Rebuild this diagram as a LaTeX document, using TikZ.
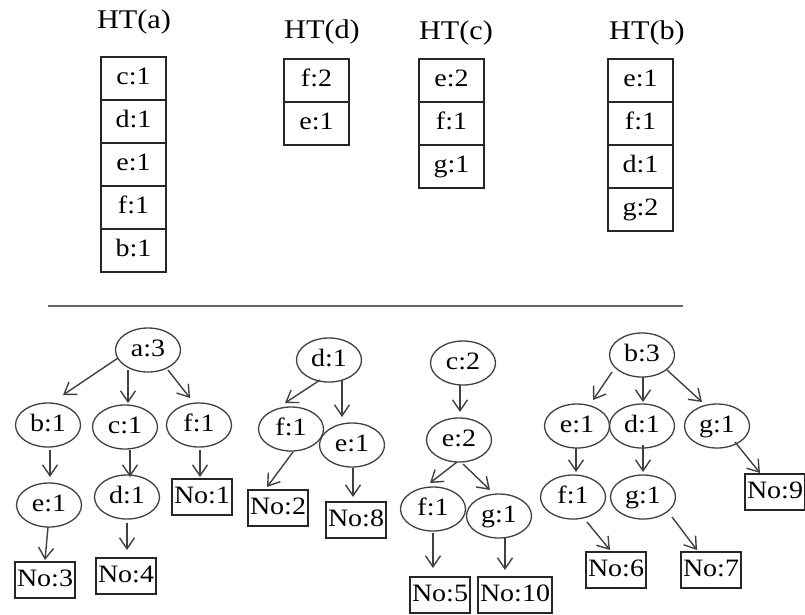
\documentclass[tikz,border=0pt]{standalone}
\usepackage{fontspec}
\setmainfont[FakeStretch=1.12]{Liberation Serif}
\usetikzlibrary{shapes.geometric,arrows.meta,calc}

\begin{document}
\begin{tikzpicture}[x=1pt,y=-1pt,
  txt/.style={font=\fontsize{25}{29}\selectfont,text height=17pt,text depth=5pt},
  title/.style={font=\fontsize{27}{31}\selectfont,inner sep=0pt},
  cell/.style={txt,rectangle,draw=black!85,line width=1.6pt,minimum width=65pt,
               minimum height=43pt,inner sep=0pt},
  item/.style={txt,ellipse,draw=black!75,line width=1.3pt,minimum width=65pt,
               minimum height=44pt,inner sep=0pt},
  leaf/.style={txt,rectangle,draw=black!85,line width=1.4pt,minimum height=36pt,
               inner xsep=2pt,inner ysep=0pt},
  arr/.style={-{Straight Barb[length=11pt,width=15pt]},line width=1.4pt,draw=black!75},
  rule/.style={line width=2pt,draw=black!60}]

\useasboundingbox (0,0) rectangle (805,614);

% ---------- header tables ----------
\node[title] (tA) at (134,22) {HT(a)};
\node[cell] (a1) at (133.5,78.5)  {c:1};
\node[cell] (a2) at (133.5,121.5) {d:1};
\node[cell] (a3) at (133.5,164.5) {e:1};
\node[cell] (a4) at (133.5,207.5) {f:1};
\node[cell] (a5) at (133.5,250.5) {b:1};

\node[title] (tD) at (322,32) {HT(d)};
\node[cell] (d1) at (316.5,80.5)  {f:2};
\node[cell] (d2) at (316.5,123.5) {e:1};

\node[title] (tC) at (456,33) {HT(c)};
\node[cell] (c1) at (451.5,80.5)  {e:2};
\node[cell] (c2) at (451.5,123.5) {f:1};
\node[cell] (c3) at (451.5,166.5) {g:1};

\node[title] (tB) at (647,33) {HT(b)};
\node[cell] (b1) at (640.5,80.5)  {e:1};
\node[cell] (b2) at (640.5,123.5) {f:1};
\node[cell] (b3) at (640.5,166.5) {d:1};
\node[cell] (b4) at (640.5,209.5) {g:2};

% ---------- separator ----------
\coordinate (sepL) at (48,306);
\coordinate (sepR) at (683,306);
\draw[rule] (sepL) -- (sepR);

% ---------- tree rooted at a ----------
\node[item] (A3) at (148,350) {a:3};
\node[item] (B1) at (48,425)  {b:1};
\node[item] (C1) at (125,427) {c:1};
\node[item] (F1) at (199,425) {f:1};
\node[item] (E1) at (49,505)  {e:1};
\node[item] (D1) at (127,497) {d:1};
\node[leaf] (N1) at (202,497) {No:1};
\node[leaf] (N3) at (45,580)  {No:3};
\node[leaf] (N4) at (126,576) {No:4};

\draw[arr] ($(A3)+(-30,8)$) -- ($(B1)+(15,-30)$);
\draw[arr] ($(A3)+(-20,20)$) -- ($(C1)+(3,-24)$);
\draw[arr] ($(A3)+(20,20)$) -- ($(F1)+(-9,-27)$);
\draw[arr] ($(B1)+(2,25)$) -- ($(E1)+(1,-28)$);
\draw[arr] ($(C1)+(5,23)$) -- ($(D1)+(3,-20)$);
\draw[arr] ($(F1)+(1,25)$) -- ($(N1)+(-2,-20)$);
\draw[arr] ($(E1)+(-1,22)$) -- ($(N3)+(0,-20)$);
\draw[arr] ($(D1)+(0,26)$) -- ($(N4)+(1,-26)$);

% ---------- tree rooted at d ----------
\node[item] (Dd)  at (329,360) {d:1};
\node[item] (Fd)  at (291,429) {f:1};
\node[item] (Ed)  at (352,445) {e:1};
\node[leaf] (N2)  at (278,508) {No:2};
\node[leaf] (N8)  at (356,520) {No:8};

\draw[arr] ($(Dd)+(-9,20)$) -- ($(Fd)+(-6,-26)$);
\draw[arr] ($(Dd)+(13,20)$) -- ($(Ed)+(-10,-28)$);
\draw[arr] ($(Fd)+(2,23)$) -- ($(N2)+(-11,-21)$);
\draw[arr] ($(Ed)+(1,23)$) -- ($(N8)+(-3,-23)$);

% ---------- tree rooted at c ----------
\node[item] (Cc)  at (463,363) {c:2};
\node[item] (Ec)  at (459,440) {e:2};
\node[item] (Fc)  at (433,509) {f:1};
\node[item] (Gc)  at (499,516) {g:1};
\node[leaf] (N5)  at (440,595) {No:5};
\node[leaf] (N10) at (515,595) {No:10};

\draw[arr] ($(Cc)+(-3,22)$) -- ($(Ec)+(1,-28)$);
\draw[arr] ($(Ec)+(-2,22)$) -- ($(Fc)+(-3,-26)$);
\draw[arr] ($(Ec)+(4,24)$) -- ($(Gc)+(-9,-26)$);
\draw[arr] ($(Fc)+(0,24)$) -- ($(N5)+(-7,-27)$);
\draw[arr] ($(Gc)+(6,21)$) -- ($(N10)+(-10,-25)$);

% ---------- tree rooted at b ----------
\node[item] (Bb)  at (642,355) {b:3};
\node[item] (Eb)  at (577,426) {e:1};
\node[item] (Db)  at (642,426) {d:1};
\node[item] (Gb)  at (717,426) {g:1};
\node[item] (Fb)  at (573,497) {f:1};
\node[item] (Gb2) at (643,497) {g:1};
\node[leaf] (N9)  at (775,492) {No:9};
\node[leaf] (N6)  at (616,570) {No:6};
\node[leaf] (N7)  at (711,570) {No:7};

\draw[arr] ($(Bb)+(-30,17)$) -- ($(Eb)+(16,-26)$);
\draw[arr] ($(Bb)+(1,22)$) -- ($(Db)+(1,-24)$);
\draw[arr] ($(Bb)+(25,15)$) -- ($(Gb)+(-15,-24)$);
\draw[arr] ($(Eb)+(-1,22)$) -- ($(Fb)+(3,-25)$);
\draw[arr] ($(Db)+(1,19)$) -- ($(Gb2)+(0,-25)$);
\draw[arr] ($(Gb)+(18,16)$) -- ($(N9)+(-15,-19)$);
\draw[arr] ($(Fb)+(14,25)$) -- ($(N6)+(-6,-20)$);
\draw[arr] ($(Gb2)+(29,20)$) -- ($(N7)+(-14,-20)$);

\end{tikzpicture}
\end{document}
